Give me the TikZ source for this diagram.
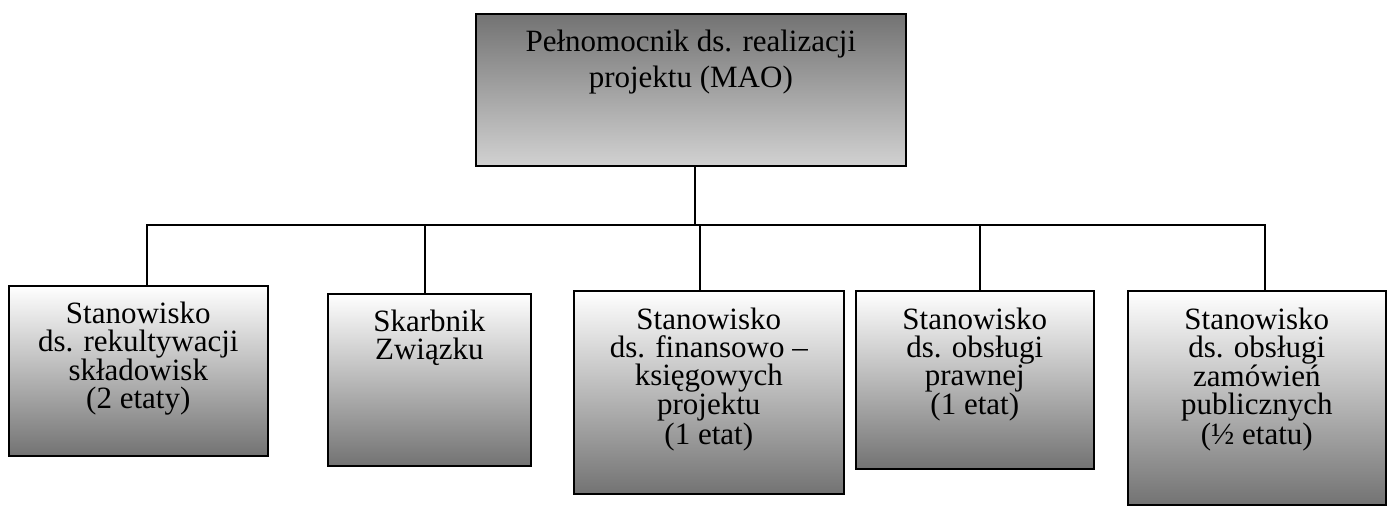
\documentclass[tikz,border=0pt]{standalone}
\usepackage{fontspec}
\setmainfont{Liberation Serif}
\begin{document}
\begin{tikzpicture}[x=1pt,y=-1pt,
  boxbase/.style={draw=black,line width=1.6pt,inner sep=0pt,anchor=north west},
  lowbox/.style={boxbase,top color=white,bottom color=black!55},
  topbox/.style={boxbase,top color=black!55,bottom color=black!18},
  txt/.style={align=center,inner sep=0pt,anchor=north,font=\fontsize{31}{28}\selectfont},
  toptxt/.style={align=center,inner sep=0pt,anchor=north,font=\fontsize{31}{36}\selectfont},
  conn/.style={line width=1.6pt}]
\useasboundingbox (0,0) rectangle (1389,506);
% boxes
\node[topbox,minimum width=430pt,minimum height=152pt] (top) at (475,13) {};
\node[lowbox,minimum width=259pt,minimum height=170pt] (b1) at (8,285) {};
\node[lowbox,minimum width=203pt,minimum height=172pt] (b2) at (327,293) {};
\node[lowbox,minimum width=270pt,minimum height=203pt] (b3) at (573,290) {};
\node[lowbox,minimum width=238pt,minimum height=178pt] (b4) at (855,290) {};
\node[lowbox,minimum width=258pt,minimum height=214pt] (b5) at (1127,290) {};
% texts
\node[toptxt] (ttop) at ([yshift=-17pt]top.north) {Pełnomocnik ds. realizacji\\projektu (MAO)};
\node[txt] (t1) at ([yshift=-17pt]b1.north) {Stanowisko\\ds. rekultywacji\\składowisk\\(2 etaty)};
\node[txt] (t2) at ([yshift=-17pt]b2.north) {Skarbnik\\Związku};
\node[txt] (t3) at ([yshift=-18pt]b3.north) {Stanowisko\\ds. finansowo –\\księgowych\\projektu\\(1 etat)};
\node[txt] (t4) at ([yshift=-18pt]b4.north) {Stanowisko\\ds. obsługi\\prawnej\\(1 etat)};
\node[txt] (t5) at ([yshift=-18pt]b5.north) {Stanowisko\\ds. obsługi\\zamówień\\publicznych\\(½ etatu)};
% connectors
\coordinate (hub) at (695,225);
\coordinate (busL) at (146,225);
\coordinate (busR) at (1266,225);
\coordinate (j1) at (147,225);
\coordinate (j2) at (425,225);
\coordinate (j3) at (700,225);
\coordinate (j4) at (980,225);
\coordinate (j5) at (1265,225);
\draw[conn] (top.south -| hub) -- (hub);
\draw[conn] (busL) -- (busR);
\draw[conn] (j1) -- (j1 |- b1.north);
\draw[conn] (j2) -- (j2 |- b2.north);
\draw[conn] (j3) -- (j3 |- b3.north);
\draw[conn] (j4) -- (j4 |- b4.north);
\draw[conn] (j5) -- (j5 |- b5.north);
\end{tikzpicture}
\end{document}
